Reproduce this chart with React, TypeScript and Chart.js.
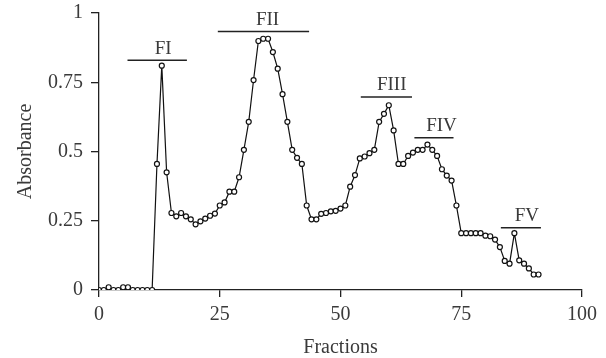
import React, { useEffect, useRef } from "react";
import { Chart, registerables } from "chart.js";

Chart.register(...registerables);

const fractions = [
  0, 1, 2, 3, 4, 5, 6, 7, 8, 9, 10, 11, 12, 13, 14, 15, 16, 17, 18, 19, 20, 21, 22, 23, 24,
  25, 26, 27, 28, 29, 30, 31, 32, 33, 34, 35, 36, 37, 38, 39, 40, 41, 42, 43, 44, 45,
  46, 47, 48, 49, 50, 51, 52, 53, 54, 55, 56, 57, 58, 59, 60, 61, 62, 63,
  64, 65, 66, 67, 68, 69, 70, 71, 72, 73, 74, 75, 76, 77, 78, 79,
  80, 81, 82, 83, 84, 85, 86, 87, 88, 89, 90, 91,
];

const absorbance = [
  0, 0, 0.01, 0, 0, 0.01, 0.01, 0, 0, 0, 0, 0,
  0.455, 0.81, 0.425, 0.278, 0.266, 0.278, 0.266, 0.255, 0.237, 0.248, 0.258, 0.268, 0.276,
  0.305, 0.316, 0.355, 0.355, 0.407, 0.506, 0.607, 0.758, 0.899, 0.907, 0.907, 0.859, 0.799, 0.707, 0.607, 0.506, 0.477, 0.455, 0.305, 0.255, 0.255,
  0.275, 0.278, 0.284, 0.286, 0.294, 0.305, 0.373, 0.415, 0.475, 0.482, 0.494, 0.506, 0.607, 0.636, 0.667, 0.576, 0.455, 0.455,
  0.484, 0.496, 0.506, 0.506, 0.525, 0.506, 0.484, 0.436, 0.413, 0.395, 0.305, 0.205, 0.205, 0.205, 0.205, 0.205,
  0.196, 0.194, 0.182, 0.155, 0.105, 0.095, 0.205, 0.107, 0.095, 0.078, 0.056, 0.056,
];

const xTicks = [0, 25, 50, 75, 100];
const yTicks = [0, 0.25, 0.5, 0.75, 1];

const peakLabels = ["FI", "FII", "FIII", "FIV", "FV"];
const peakStart = [5.9, 24.6, 54.2, 65.3, 83.2];
const peakEnd = [18.2, 43.5, 64.8, 73.4, 91.5];
const peakLevel = [0.829, 0.933, 0.697, 0.55, 0.225];
const peakLabelX = [13.3, 34.9, 60.6, 70.9, 88.6];

const FONT = "'Liberation Serif', 'Times New Roman', serif";
const TEXT = "#3a3a3a";

const peakPlugin = {
  id: "peakBars",
  afterDatasetsDraw(chart: any) {
    const { ctx, scales } = chart;
    const xs = scales.x;
    const ys = scales.y;
    ctx.save();
    ctx.strokeStyle = "#222";
    ctx.lineWidth = 1.5;
    ctx.fillStyle = TEXT;
    ctx.font = `19px ${FONT}`;
    ctx.textAlign = "center";
    ctx.textBaseline = "alphabetic";
    peakLabels.forEach((lab, i) => {
      const x1 = xs.getPixelForValue(peakStart[i]);
      const x2 = xs.getPixelForValue(peakEnd[i]);
      const y = ys.getPixelForValue(peakLevel[i]);
      ctx.beginPath();
      ctx.moveTo(x1, y);
      ctx.lineTo(x2, y);
      ctx.stroke();
      ctx.fillText(lab, xs.getPixelForValue(peakLabelX[i]), y - 6.5);
    });
    ctx.restore();
  },
};

export default function App() {
  const ref = useRef<HTMLCanvasElement>(null);

  useEffect(() => {
    document.body.style.margin = "0";
    const canvas = ref.current;
    if (!canvas) return;
    const chart = new Chart(canvas, {
      type: "line",
      data: {
        datasets: [
          {
            label: "Absorbance",
            data: fractions.map((f, i) => ({ x: f, y: absorbance[i] })),
            borderColor: "#111",
            borderWidth: 1.2,
            backgroundColor: "#fff",
            pointBackgroundColor: "#fff",
            pointBorderColor: "#111",
            pointBorderWidth: 1.2,
            pointRadius: 2.5,
            tension: 0,
            fill: false,
          },
        ],
      },
      options: {
        responsive: false,
        animation: false,
        layout: { padding: { top: 13, right: 24, left: 0, bottom: 0 } },
        plugins: {
          legend: { display: false },
          tooltip: { enabled: false },
        },
        scales: {
          x: {
            type: "linear",
            min: 0,
            max: 100,
            afterBuildTicks: (s: any) => {
              s.ticks = xTicks.map((v) => ({ value: v }));
            },
            afterFit: (s: any) => {
              s.height = 68;
              s.paddingLeft = 0;
              s.paddingRight = 0;
            },
            ticks: {
              color: TEXT,
              font: { family: FONT, size: 20 },
              padding: 6,
              maxRotation: 0,
              callback: (v: any) => String(v),
            },
            grid: {
              display: true,
              drawOnChartArea: false,
              drawTicks: true,
              tickLength: 7,
              color: "#222",
              lineWidth: 1.3,
            },
            border: { display: true, color: "#222", width: 1.3 },
            title: {
              display: true,
              text: "Fractions",
              color: TEXT,
              font: { family: FONT, size: 20, lineHeight: 1 },
              padding: { top: 0, bottom: 0 },
            },
          },
          y: {
            type: "linear",
            min: 0,
            max: 1,
            afterBuildTicks: (s: any) => {
              s.ticks = yTicks.map((v) => ({ value: v }));
            },
            afterFit: (s: any) => {
              s.width = 99;
              s.paddingTop = 0;
              s.paddingBottom = 0;
            },
            ticks: {
              color: TEXT,
              font: { family: FONT, size: 20 },
              padding: 8,
              callback: (v: any) => String(v),
            },
            grid: {
              display: true,
              drawOnChartArea: false,
              drawTicks: true,
              tickLength: 8,
              color: "#222",
              lineWidth: 1.3,
            },
            border: { display: true, color: "#222", width: 1.3 },
            title: {
              display: true,
              text: "Absorbance",
              color: TEXT,
              font: { family: FONT, size: 20 },
              padding: { top: 14, bottom: 0 },
            },
          },
        },
      },
      plugins: [peakPlugin],
    });
    return () => chart.destroy();
  }, []);

  return (
    <div style={{ width: 606, height: 358 }}>
      <canvas ref={ref} width={606} height={358} />
    </div>
  );
}
